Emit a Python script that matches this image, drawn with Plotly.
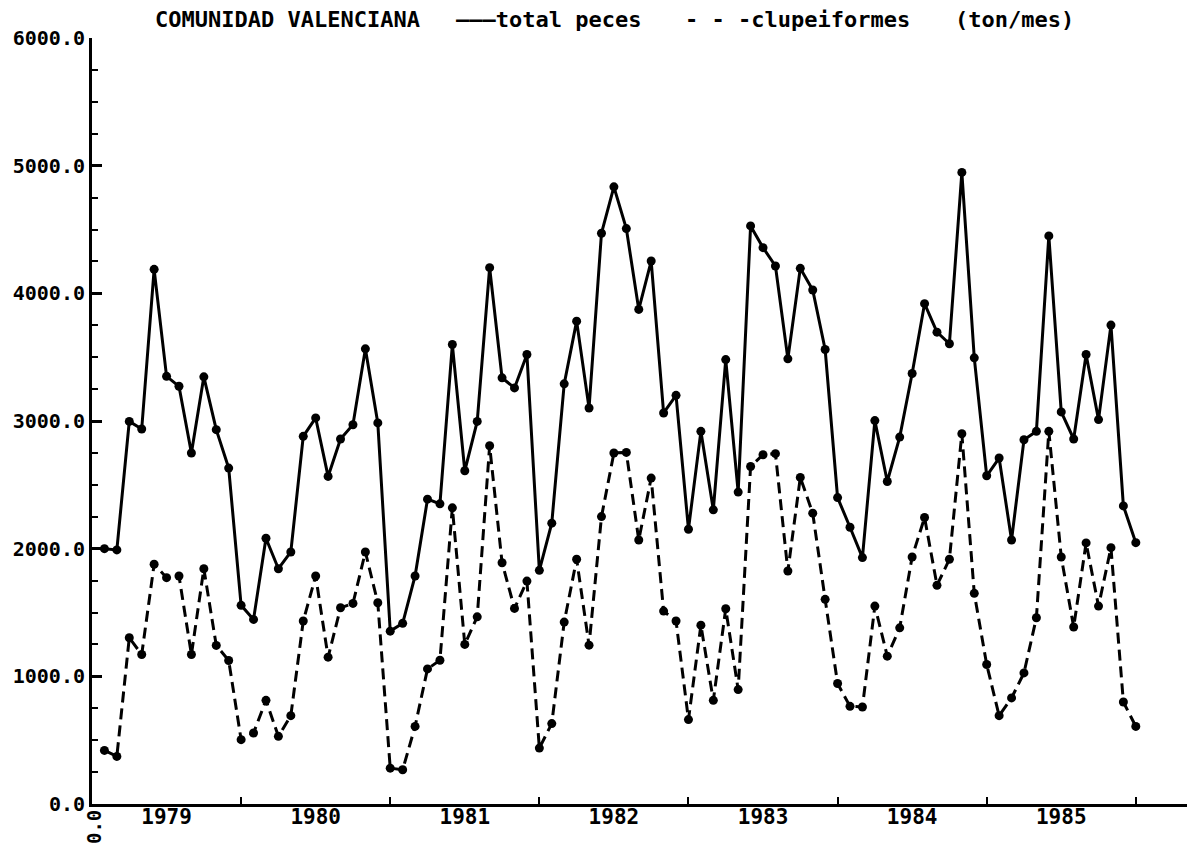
import plotly.graph_objects as go

# monthly values 1979-1985 (ton/mes)
years = [1979, 1980, 1981, 1982, 1983, 1984, 1985]

total_peces = [
    2000, 1990, 2997, 2937, 4188, 3350, 3272, 2749, 3346, 2932, 2631, 1556,
    1446, 2082, 1843, 1974, 2880, 3024, 2566, 2859, 2971, 3565, 2985, 1354,
    1415, 1786, 2388, 2351, 3599, 2610, 2997, 4201, 3338, 3259, 3521, 1830,
    2200, 3291, 3782, 3102, 4471, 4834, 4507, 3874, 4253, 3063, 3201, 2152,
    2919, 2304, 3481, 2443, 4528, 4358, 4214, 3487, 4196, 4026, 3560, 2400,
    2168, 1930, 3003, 2526, 2874, 3372, 3919, 3696, 3605, 4947, 3495, 2571,
    2710, 2068, 2853, 2919, 4450, 3071, 2859, 3521, 3011, 3751, 2335, 2047,
]

clupeiformes = [
    420, 373, 1302, 1171, 1878, 1773, 1786, 1171, 1843, 1242, 1124, 504,
    556, 812, 530, 692, 1433, 1786, 1150, 1537, 1571, 1974, 1576, 281,
    268, 608, 1058, 1126, 2320, 1250, 1466, 2806, 1890, 1532, 1746, 438,
    630, 1425, 1917, 1244, 2251, 2749, 2754, 2068, 2553, 1511, 1433, 661,
    1401, 812, 1529, 896, 2644, 2736, 2744, 1825, 2558, 2278, 1603, 944,
    765, 760, 1550, 1158, 1380, 1935, 2244, 1713, 1917, 2900, 1650, 1093,
    692, 831, 1027, 1459, 2919, 1935, 1386, 2045, 1550, 2008, 799, 608,
]

# each point sits at the end of its month
t = [years[0] + (i + 1) / 12 for i in range(len(total_peces))]

FONT = "DejaVu Sans Mono"

fig = go.Figure()
fig.add_trace(go.Scatter(
    x=t, y=total_peces, mode="lines+markers", name="total peces",
    line=dict(color="black", width=3),
    marker=dict(color="black", size=9),
    cliponaxis=False,
))
fig.add_trace(go.Scatter(
    x=t, y=clupeiformes, mode="lines+markers", name="clupeiformes",
    line=dict(color="black", width=3, dash="11px,6px"),
    marker=dict(color="black", size=9),
    cliponaxis=False,
))

title_bits = [
    ("COMUNIDAD VALENCIANA", 0.0556),
    ("———total peces", 0.3303),
    ("- - -clupeiformes", 0.5395),
    ("(ton/mes)", 0.7856),
]
annotations = [
    dict(text=txt, x=xp, y=1.0235, xref="paper", yref="paper",
         xanchor="left", yanchor="middle", showarrow=False,
         font=dict(family=FONT, size=22, color="black", weight="bold"))
    for txt, xp in title_bits
]
annotations.append(dict(
    text="0.0", x=0.002, y=-0.005, xref="paper", yref="paper",
    xanchor="center", yanchor="top", showarrow=False, textangle=-90,
    font=dict(family=FONT, size=19, color="black", weight="bold"),
))

# page body adds an 8px offset, so the figure is sized to fit the window
fig.update_layout(
    width=1187, height=838,
    margin=dict(l=84, r=7, t=30, b=42),
    plot_bgcolor="white", paper_bgcolor="white",
    showlegend=False,
    annotations=annotations,
)

fig.update_xaxes(
    range=[1979, 1986.35], automargin=False,
    tickvals=[y + 0.5 for y in years],
    ticktext=[str(y) for y in years],
    ticks="", showgrid=False, zeroline=False, ticklabelstandoff=-8,
    showline=True, linecolor="black", linewidth=3,
    tickfont=dict(family=FONT, size=21, color="black", weight="bold"),
    minor=dict(tickvals=[y + 1 for y in years], ticks="inside",
               ticklen=7, tickwidth=2, tickcolor="black", showgrid=False),
)
fig.update_yaxes(
    range=[0, 6000], automargin=False,
    tickvals=[0, 1000, 2000, 3000, 4000, 5000, 6000],
    tickformat=".1f",
    ticks="inside", ticklen=10, tickwidth=3, tickcolor="black",
    showgrid=False, zeroline=False,
    showline=True, linecolor="black", linewidth=3,
    tickfont=dict(family=FONT, size=20, color="black", weight="bold"),
    minor=dict(dtick=250, ticks="inside", ticklen=6, tickwidth=2,
               tickcolor="black", showgrid=False),
)

fig.write_html("out.html")
